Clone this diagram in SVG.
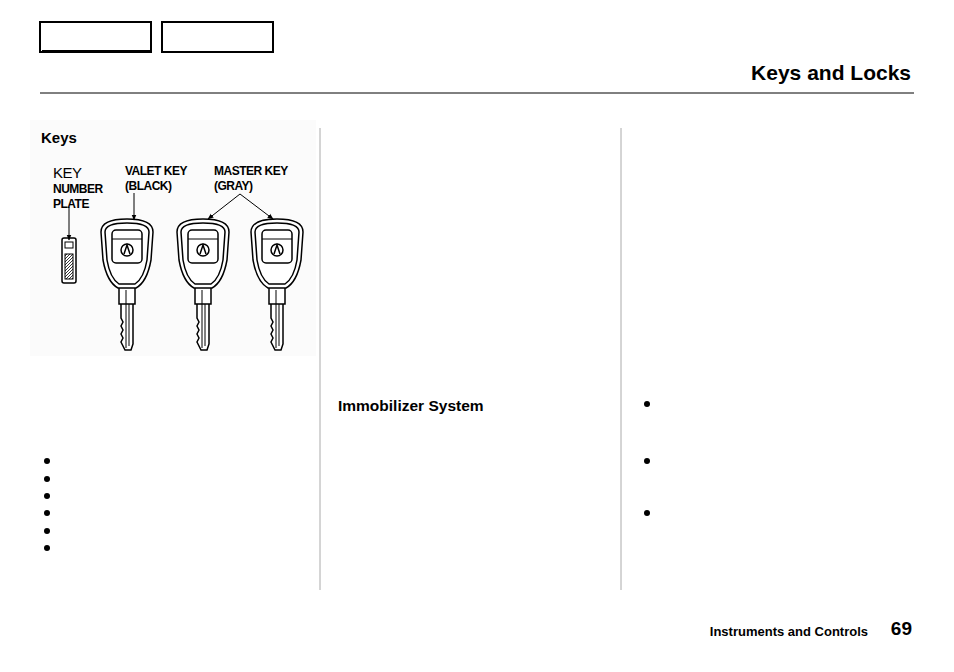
<svg xmlns="http://www.w3.org/2000/svg" width="954" height="672" viewBox="0 0 954 672">
<style>
.t{font-family:"Liberation Sans",Arial,sans-serif;fill:#000}
.s{fill:none;stroke:#000;stroke-width:1.5}
.w{fill:#fff;stroke:#000;stroke-width:1.5}
.l{stroke:#000;stroke-width:1}
</style>
<defs>
<marker id="ar" viewBox="0 0 10 10" refX="9" refY="5" markerWidth="6" markerHeight="6" orient="auto"><path d="M0,1 L10,5 L0,9 Z" fill="#000"/></marker>
<pattern id="hatch" width="3" height="3" patternUnits="userSpaceOnUse"><path d="M0,3 L3,0" stroke="#000" stroke-width="0.8"/></pattern>
<g id="key">
<path class="w" d="M-6,68 L-6,98 L-4,102 L-6,106 L-4,110 L-6,114 L-4,118 L-6,122 L-2,130 L4,130 L6,124 L6,68 Z"/>
<path class="w" d="M-8,68 L-8,84 L8,84 L8,68"/>
<line class="l" x1="-1" y1="70" x2="-1" y2="128"/><line class="l" x1="2" y1="84" x2="2" y2="126"/>
<path class="w" d="M-26,12 Q-26,-1 0,-1 Q26,-1 26,12 L24,40 Q20,62 9,68 L-9,68 Q-20,62 -24,40 Z"/>
<path class="s" d="M-22,12 Q-22,3 0,3 Q22,3 22,12 L20,40 Q17,58 8,64 L-8,64 Q-17,58 -20,40 Z"/>
<rect class="s" x="-15" y="10" width="30" height="33" rx="4"/>
<line class="l" x1="-15" y1="19" x2="15" y2="19"/>
<circle class="s" cx="0" cy="30" r="6"/>
<path class="s" d="M-3,34 L0,25 L3,34" stroke-width="1.2"/>
</g>
</defs>
<rect width="954" height="672" fill="#fff"/>
<g id="tabs">
<rect x="40" y="22" width="111" height="30" fill="#fff" stroke="#000" stroke-width="2"/>
<rect x="162" y="22" width="111" height="30" fill="#fff" stroke="#000" stroke-width="2"/>
<line x1="42" y1="51" x2="151" y2="51" stroke="#000" stroke-width="2"/>
</g>
<text class="t" x="911" y="80" font-size="21" font-weight="bold" text-anchor="end">Keys and Locks</text>
<line x1="40" y1="93" x2="914" y2="93" stroke="#000" stroke-width="1"/>
<line x1="320" y1="128" x2="320" y2="590" stroke="#aaa"/>
<line x1="621" y1="128" x2="621" y2="590" stroke="#aaa"/>
<rect x="30" y="120" width="286" height="236" fill="#fbfbfb"/>
<text class="t" x="41" y="143" font-size="15" font-weight="bold">Keys</text>
<g id="labels" class="t" font-size="12" font-weight="bold" letter-spacing="-0.5">
<text x="53" y="178" font-size="15" font-weight="normal">KEY</text>
<text x="53" y="193">NUMBER</text><text x="53" y="208">PLATE</text>
<text x="125" y="175">VALET KEY</text><text x="125" y="190">(BLACK)</text>
<text x="214" y="175">MASTER KEY</text><text x="214" y="190">(GRAY)</text>
</g>
<g id="plate">
<rect x="62" y="238" width="14" height="45" rx="2" fill="#fff" stroke="#000" stroke-width="1.5"/>
<rect x="65" y="242" width="8" height="6" fill="#fff" stroke="#000"/>
<rect x="65" y="254" width="8" height="25" fill="url(#hatch)" stroke="#000"/>
</g>
<g id="valet"><use href="#key" transform="translate(127,220)"/></g>
<g id="master1"><use href="#key" transform="translate(203,220)"/></g>
<g id="master2"><use href="#key" transform="translate(277,220)"/></g>
<g id="connectors" stroke="#000" stroke-width="1" fill="none" marker-end="url(#ar)">
<line x1="69" y1="207" x2="69" y2="240"/>
<line x1="134" y1="193" x2="134" y2="220"/>
<line x1="240" y1="194" x2="208" y2="219"/>
<line x1="240" y1="194" x2="273" y2="219"/>
</g>
<text class="t" x="338" y="411" font-size="15.5" font-weight="bold">Immobilizer System</text>
<g id="bullets" fill="#000">
<circle cx="47" cy="461" r="3"/><circle cx="47" cy="479" r="3"/><circle cx="47" cy="496" r="3"/>
<circle cx="47" cy="513" r="3"/><circle cx="47" cy="531" r="3"/><circle cx="47" cy="548" r="3"/>
<circle cx="647" cy="404" r="3"/><circle cx="647" cy="461" r="3"/><circle cx="647" cy="513" r="3"/>
</g>
<text class="t" x="868" y="636" font-size="13" font-weight="bold" text-anchor="end">Instruments and Controls</text>
<text class="t" x="912" y="635" font-size="19" font-weight="bold" text-anchor="end">69</text>
</svg>
